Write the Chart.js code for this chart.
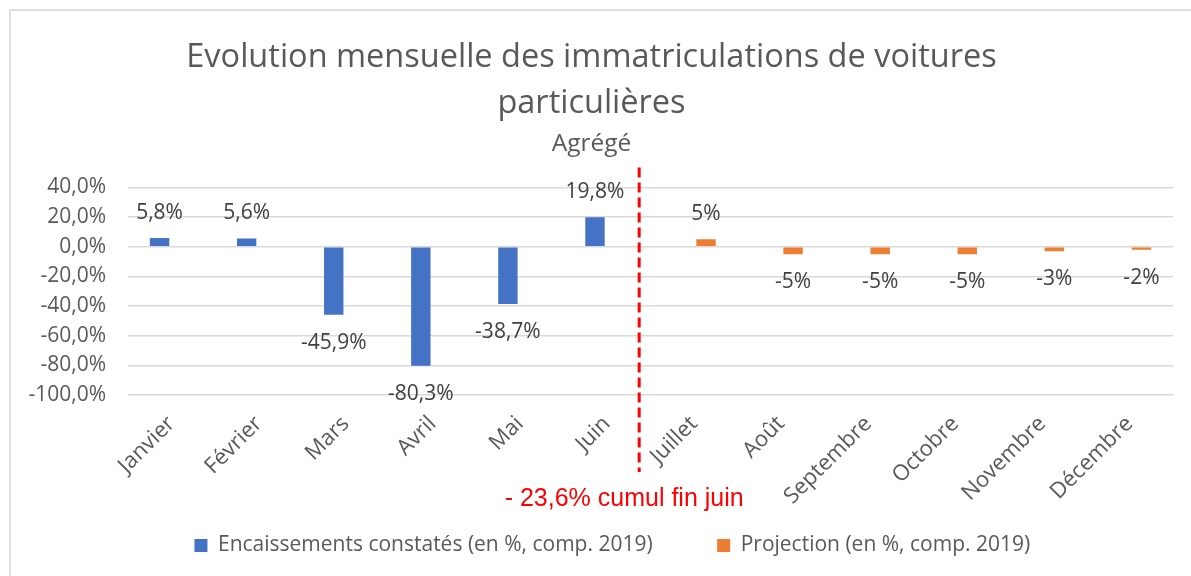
<!DOCTYPE html>
<html>
<head>
<meta charset="utf-8">
<script src="https://cdn.jsdelivr.net/npm/chart.js@4.4.0/dist/chart.umd.min.js"></script>
<style>
  html, body { margin: 0; padding: 0; background: #fff; }
  #wrap { position: relative; width: 1191px; height: 576px; overflow: hidden; }
  #frame { position: absolute; left: 9px; top: 9px; width: 1200px; height: 600px;
           border-left: 2px solid #dedede; border-top: 2px solid #dedede; }
  canvas { position: absolute; left: 0; top: 0; }
</style>
</head>
<body>
<div id="wrap">
  <div id="frame"></div>
  <canvas id="chart" width="1191" height="576"></canvas>
</div>
<script>
// donnees
const months = ["Janvier", "Février", "Mars", "Avril", "Mai", "Juin",
                "Juillet", "Août", "Septembre", "Octobre", "Novembre", "Décembre"];
const observed = [5.8, 5.6, -45.9, -80.3, -38.7, 19.8, null, null, null, null, null, null];
const projection = [null, null, null, null, null, null, 5, -5, -5, -5, -3, -2];
const seriesNames = ["Encaissements constatés (en %, comp. 2019)", "Projection (en %, comp. 2019)"];
const titleLines = ["Evolution mensuelle des immatriculations de voitures", "particulières"];
const subtitleText = "Agrégé";
const noteText = "- 23,6% cumul fin juin";
const dividerAt = 5.37;   // position entre juin et juillet (en index de categorie)
const yMin = -100, yMax = 40, yStep = 20;

const grey = "#595959";
const font = "Open Sans";
const fmtAxis = v => v.toFixed(1).replace(".", ",") + "%";
const fmtLabel = [
  v => v.toFixed(1).replace(".", ",") + "%",
  v => String(v) + "%"
];
// espacement de la legende (espaces insecables en fin de libelle)
const legendGap = ["\u00a0".repeat(10), "\u00a0".repeat(14)];

// etiquettes de valeur au-dessus / en-dessous des barres
const valueLabels = {
  id: "valueLabels",
  afterDatasetsDraw(chart) {
    const ctx = chart.ctx;
    ctx.save();
    ctx.font = '21px "' + font + '"';
    ctx.fillStyle = "#404040";
    ctx.textAlign = "center";
    ctx.textBaseline = "middle";
    chart.data.datasets.forEach((ds, i) => {
      const meta = chart.getDatasetMeta(i);
      meta.data.forEach((bar, j) => {
        const v = ds.data[j];
        if (v === null || v === undefined) return;
        const y = v >= 0 ? bar.y - 25 : bar.y + 28;
        ctx.fillText(fmtLabel[i](v), bar.x, y);
      });
    });
    ctx.restore();
  }
};

// ligne rouge + cumul
const divider = {
  id: "divider",
  afterDraw(chart) {
    const { ctx, chartArea, scales } = chart;
    const x = scales.x.getPixelForValue(dividerAt);
    ctx.save();
    ctx.strokeStyle = "#ff0000";
    ctx.lineWidth = 3;
    ctx.setLineDash([10, 5]);
    ctx.beginPath();
    ctx.moveTo(x, chartArea.top - 20);
    ctx.lineTo(x, chartArea.bottom + 77);
    ctx.stroke();
    ctx.setLineDash([]);
    ctx.font = '25px "Liberation Sans"';
    ctx.fillStyle = "#ff0000";
    ctx.textAlign = "center";
    ctx.textBaseline = "middle";
    ctx.fillText(noteText, x - 15, chartArea.bottom + 104);
    ctx.restore();
  }
};

function draw() {
  new Chart(document.getElementById("chart"), {
    type: "bar",
    data: {
      labels: months,
      datasets: [
        { label: seriesNames[0], data: observed, backgroundColor: "#4472c4",
          categoryPercentage: 0.55, barPercentage: 0.81 },
        { label: seriesNames[1], data: projection, backgroundColor: "#ed7d31",
          categoryPercentage: 0.55, barPercentage: 0.81 }
      ]
    },
    options: {
      responsive: false,
      animation: false,
      layout: { padding: { left: 10, right: 18, top: 0, bottom: 10 } },
      plugins: {
        title: {
          display: true, text: titleLines, color: grey,
          font: { family: font, size: 32.5, weight: "normal", lineHeight: 1.4 },
          padding: { top: 35, bottom: 3 }
        },
        subtitle: {
          display: true, text: subtitleText, color: grey,
          font: { family: font, size: 24.5, weight: "normal", lineHeight: 1.2 },
          padding: { top: 0, bottom: 29 }
        },
        legend: {
          position: "bottom",
          fullSize: false,
          labels: {
            color: grey, boxWidth: 13, boxHeight: 13, padding: 10,
            font: { family: font, size: 21 },
            generateLabels(chart) {
              return Chart.defaults.plugins.legend.labels.generateLabels(chart)
                .map((item, i) => Object.assign(item, { text: item.text + legendGap[i] }));
            }
          }
        },
        tooltip: { enabled: false }
      },
      scales: {
        x: {
          grid: { display: false },
          border: { display: false },
          ticks: { color: grey, font: { family: font, size: 22 },
                   minRotation: 45, maxRotation: 45, autoSkip: false, padding: 8 },
          afterFit(s) { s.height = 130; }
        },
        y: {
          min: yMin, max: yMax,
          grid: { color: "#d9d9d9", lineWidth: 1.5, drawTicks: false },
          border: { display: false },
          ticks: { stepSize: yStep, color: grey, font: { family: font, size: 21 },
                   padding: 22, callback: v => fmtAxis(v) },
          afterFit(s) { s.width = 118; }
        }
      }
    },
    plugins: [valueLabels, divider]
  });
}

if (document.fonts && document.fonts.load) {
  Promise.all([document.fonts.load('20px "Open Sans"'), document.fonts.load('22px "Liberation Sans"')])
    .then(draw, draw);
} else {
  draw();
}
</script>
</body>
</html>
